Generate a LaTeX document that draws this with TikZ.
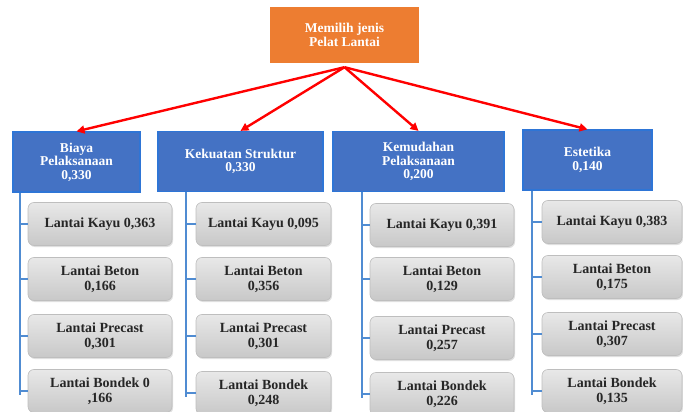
\documentclass[tikz,border=0pt]{standalone}
\usepackage{fontspec}
\setmainfont{Liberation Serif}
\usepackage{tikz}
\usetikzlibrary{arrows.meta,positioning,shadows}
\usepackage{xcolor}
\definecolor{goalCol}{RGB}{237,125,49}
\definecolor{critCol}{RGB}{68,114,196}
\definecolor{critEdge}{RGB}{46,117,214}
\definecolor{trunkCol}{RGB}{80,140,210}
\definecolor{altTop}{RGB}{232,232,232}
\definecolor{altBot}{RGB}{200,200,200}
\definecolor{altEdge}{RGB}{190,190,190}
\definecolor{altText}{RGB}{38,38,38}

\begin{document}
\begin{tikzpicture}[
  x=1pt, y=-1pt,
  every node/.style={font=\bfseries},
  goalbox/.style={rectangle, fill=goalCol, text=white, minimum width=149pt,
    minimum height=56pt, align=center, inner sep=2pt,
    font=\bfseries\fontsize{13.5}{13.5}\selectfont},
  critbox/.style n args={1}{rectangle, fill=critCol, draw=critEdge, line width=1.2pt,
    text=white, minimum width=#1, minimum height=60pt, align=center, inner sep=2pt,
    font=\bfseries\fontsize{13.5}{13.5}\selectfont},
  altbox/.style n args={1}{rectangle, rounded corners=6pt, top color=altTop,
    bottom color=altBot, draw=altEdge, line width=0.6pt, text=altText,
    minimum width=#1, minimum height=43pt, align=center, inner sep=2pt,
    drop shadow={opacity=0.25, shadow xshift=1pt, shadow yshift=-1.5pt},
    font=\bfseries\fontsize{14}{15}\selectfont},
  pick/.style={line width=2.4pt, color=red, -{Triangle[length=8pt, width=8pt]}},
  trunk/.style={line width=1.8pt, color=trunkCol},
]
\useasboundingbox (0,0) rectangle (683,412);
% goal
\node[goalbox] (goal) at (344.5, 35) {Memilih jenis\\Pelat Lantai};
% criteria
\node[critbox={127pt}] (b1) at ( 76.5, 162) {Biaya\\Pelaksanaan\\0,330};
\node[critbox={165pt}] (b2) at (240.5, 161.5) {Kekuatan Struktur\\0,330};
\node[critbox={171pt}] (b3) at (418.5, 161.5) {Kemudahan\\Pelaksanaan\\0,200};
\node[critbox={129pt}] (b4) at (587.5, 160) {Estetika\\0,140};
\foreach \b in {b1,b2,b3,b4}
  \draw[pick] ([yshift=-4pt]goal.south) -- (\b.north);
% C1 alternatives
\node[altbox={144pt}] (g11) at (100, 224) {Lantai Kayu 0,363};
\node[altbox={144pt}] (g12) at (100, 279) {Lantai Beton\\0,166};
\node[altbox={144pt}] (g13) at (100, 336) {Lantai Precast\\0,301};
\node[altbox={144pt}] (g14) at (100, 391) {Lantai Bondek 0\\,166};
% C2 alternatives
\node[altbox={135pt}] (g21) at (263.5, 224) {Lantai Kayu 0,095};
\node[altbox={135pt}] (g22) at (263.5, 279) {Lantai Beton\\0,356};
\node[altbox={135pt}] (g23) at (263.5, 336) {Lantai Precast\\0,301};
\node[altbox={135pt}] (g24) at (263.5, 393) {Lantai Bondek\\0,248};
% C3 alternatives
\node[altbox={144pt}] (g31) at (442, 225) {Lantai Kayu 0,391};
\node[altbox={144pt}] (g32) at (442, 279) {Lantai Beton\\0,129};
\node[altbox={144pt}] (g33) at (442, 338) {Lantai Precast\\0,257};
\node[altbox={144pt}] (g34) at (442, 394) {Lantai Bondek\\0,226};
% C4 alternatives
\node[altbox={140pt}] (g41) at (612, 222) {Lantai Kayu 0,383};
\node[altbox={140pt}] (g42) at (612, 277) {Lantai Beton\\0,175};
\node[altbox={140pt}] (g43) at (612, 334) {Lantai Precast\\0,307};
\node[altbox={140pt}] (g44) at (612, 391) {Lantai Bondek\\0,135};
% trunks
\foreach \c/\s in {1/8,2/10,3/8,4/10} {
  \draw[trunk] ([xshift=-\s pt]b\c.south -| g\c1.west) -- ([xshift=-\s pt, yshift=-4pt]g\c4.west);
  \foreach \r in {1,2,3,4}
    \draw[trunk] ([xshift=-\s pt]g\c\r.west) -- (g\c\r.west);
}
\end{tikzpicture}
\end{document}
